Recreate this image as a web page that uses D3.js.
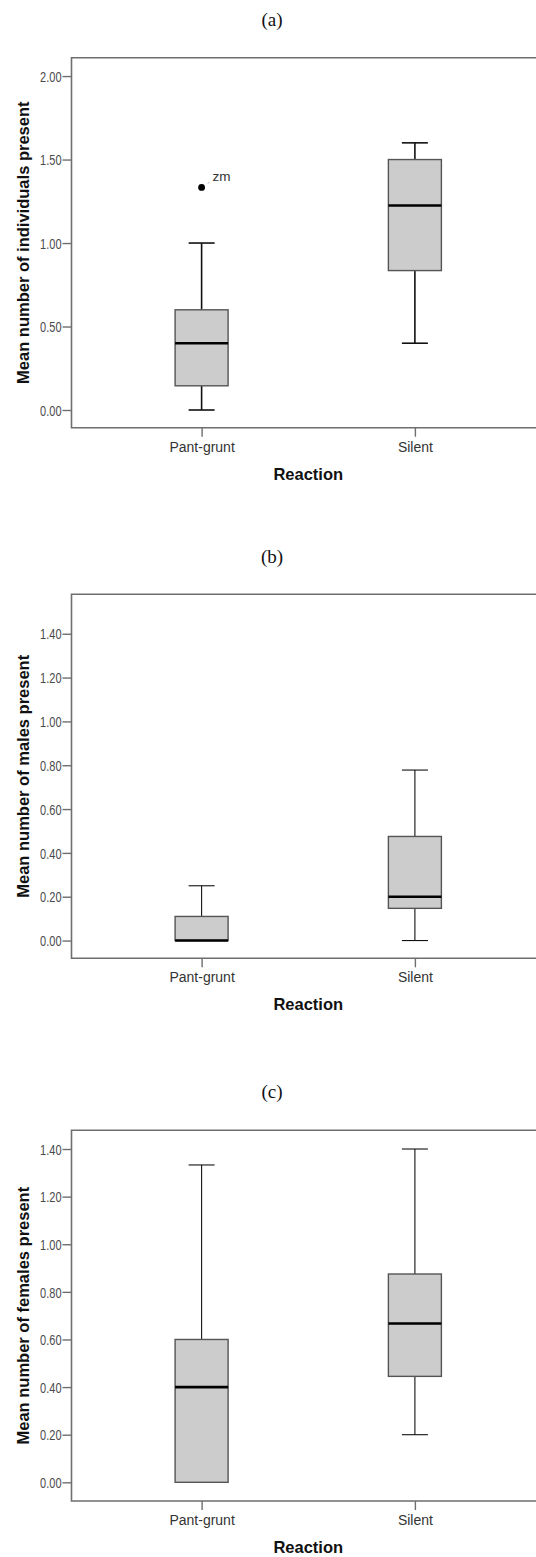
<!DOCTYPE html>
<html>
<head>
<meta charset="utf-8">
<script src="https://cdn.jsdelivr.net/npm/d3@7"></script>
<style>
  html, body { margin: 0; padding: 0; background: #fff; }
  svg { display: block; }
</style>
</head>
<body>
<svg id="chart" width="536" height="1557"></svg>
<script>
// Reaction groups shared by all three panels
const categories = ["Pant-grunt", "Silent"];

// Box summaries per group: [lower whisker, Q1, median, Q3, upper whisker]
const individualsStats = [
  [0.00, 0.145, 0.40, 0.60, 1.00],
  [0.40, 0.835, 1.225, 1.50, 1.60]
];
const individualsOutliers = [{ group: "Pant-grunt", value: 1.333, label: "zm" }];
const individualsTicks = [0, 0.5, 1.0, 1.5, 2.0];

const malesStats = [
  [0.00, 0.00, 0.00, 0.11, 0.25],
  [0.00, 0.147, 0.20, 0.475, 0.778]
];
const malesOutliers = [];
const malesTicks = [0, 0.2, 0.4, 0.6, 0.8, 1.0, 1.2, 1.4];

const femalesStats = [
  [0.00, 0.00, 0.40, 0.60, 1.333],
  [0.20, 0.445, 0.667, 0.875, 1.40]
];
const femalesOutliers = [];
const femalesTicks = [0, 0.2, 0.4, 0.6, 0.8, 1.0, 1.2, 1.4];

const panelTitles = ["(a)", "(b)", "(c)"];
const yTitles = [
  "Mean number of individuals present",
  "Mean number of males present",
  "Mean number of females present"
];
const xTitle = "Reaction";

const svg = d3.select("#chart");

// shared horizontal layout
const left = 71.5, right = 545;
const x = d3.scalePoint().domain(categories).range([left, right]).padding(0.61);
const boxHalf = 26.5, capHalf = 13;

const panels = [
  { stats: individualsStats, outliers: individualsOutliers, ticks: individualsTicks,
    domain: [-0.106, 2.11], top: 57.7, bottom: 427.7, titleY: 26, whisker: 1.6 },
  { stats: malesStats, outliers: malesOutliers, ticks: malesTicks,
    domain: [-0.081, 1.58], top: 594.3, bottom: 958.3, titleY: 563, whisker: 1.1 },
  { stats: femalesStats, outliers: femalesOutliers, ticks: femalesTicks,
    domain: [-0.0785, 1.4786], top: 1130.3, bottom: 1501, titleY: 1098, whisker: 1.1 }
];

panels.forEach((p, i) => {
  const g = svg.append("g");
  const y = d3.scaleLinear().domain(p.domain).range([p.bottom, p.top]);

  // panel letter
  g.append("text")
    .attr("x", 272).attr("y", p.titleY)
    .attr("text-anchor", "middle")
    .attr("font-family", "Liberation Serif, Times New Roman, serif")
    .attr("font-size", 19)
    .attr("fill", "#111")
    .text(panelTitles[i]);

  // plot frame (right side runs past the page edge)
  g.append("path")
    .attr("d", `M${right},${p.top}H${left}V${p.bottom}H${right}`)
    .attr("fill", "none").attr("stroke", "#6e6e6e").attr("stroke-width", 1.6);

  // y axis
  const yAxis = g.append("g")
    .attr("transform", `translate(${left},0)`)
    .call(d3.axisLeft(y).tickValues(p.ticks).tickFormat(d3.format(".2f"))
      .tickSize(9).tickPadding(1));
  yAxis.select(".domain").remove();
  yAxis.selectAll(".tick line").attr("stroke", "#6e6e6e").attr("stroke-width", 1.4);
  yAxis.selectAll(".tick text")
    .attr("font-family", "Liberation Sans, Arial, sans-serif")
    .attr("font-size", 14.5)
    .attr("fill", "#4a4a4a")
    .attr("dy", "0.36em")
    .each(function () {
      const t = d3.select(this);
      const xx = +t.attr("x");
      t.attr("x", null).attr("transform", `translate(${xx},0) scale(0.76,1)`);
    });

  // x axis
  const xAxis = g.append("g")
    .attr("transform", `translate(0,${p.bottom})`)
    .call(d3.axisBottom(x).tickSize(9).tickPadding(5));
  xAxis.select(".domain").remove();
  xAxis.selectAll(".tick line").attr("stroke", "#6e6e6e").attr("stroke-width", 1.4);
  xAxis.selectAll(".tick text")
    .attr("font-family", "Liberation Sans, Arial, sans-serif")
    .attr("font-size", 14)
    .attr("fill", "#333");

  // axis titles
  g.append("text")
    .attr("x", (left + right) / 2).attr("y", p.bottom + 52)
    .attr("text-anchor", "middle")
    .attr("font-family", "Liberation Sans, Arial, sans-serif")
    .attr("font-weight", "bold").attr("font-size", 16.5)
    .attr("fill", "#111")
    .text(xTitle);

  g.append("text")
    .attr("transform", `translate(29,${(p.top + p.bottom) / 2}) rotate(-90)`)
    .attr("text-anchor", "middle")
    .attr("font-family", "Liberation Sans, Arial, sans-serif")
    .attr("font-weight", "bold").attr("font-size", 16.5)
    .attr("fill", "#111")
    .text(yTitles[i]);

  // boxes
  const boxes = g.selectAll(".box")
    .data(p.stats.map((s, k) => ({ cat: categories[k], s })))
    .join("g").attr("class", "box");

  // whiskers (only where they extend beyond the box)
  boxes.each(function (d) {
    const b = d3.select(this);
    const cx = x(d.cat);
    const [lo, q1, med, q3, hi] = d.s;
    if (hi > q3) {
      b.append("line").attr("x1", cx).attr("x2", cx).attr("y1", y(q3)).attr("y2", y(hi))
        .attr("stroke", "#111").attr("stroke-width", p.whisker);
      b.append("line").attr("x1", cx - capHalf).attr("x2", cx + capHalf).attr("y1", y(hi)).attr("y2", y(hi))
        .attr("stroke", "#111").attr("stroke-width", p.whisker);
    }
    if (lo < q1) {
      b.append("line").attr("x1", cx).attr("x2", cx).attr("y1", y(q1)).attr("y2", y(lo))
        .attr("stroke", "#111").attr("stroke-width", p.whisker);
      b.append("line").attr("x1", cx - capHalf).attr("x2", cx + capHalf).attr("y1", y(lo)).attr("y2", y(lo))
        .attr("stroke", "#111").attr("stroke-width", p.whisker);
    }
    b.append("rect")
      .attr("x", cx - boxHalf).attr("width", boxHalf * 2)
      .attr("y", y(q3)).attr("height", y(q1) - y(q3))
      .attr("fill", "#cccccc").attr("stroke", "#555").attr("stroke-width", 1.4);
    b.append("line")
      .attr("x1", cx - boxHalf).attr("x2", cx + boxHalf)
      .attr("y1", y(med)).attr("y2", y(med))
      .attr("stroke", "#000").attr("stroke-width", 2.6);
  });

  // outliers with case labels
  p.outliers.forEach(o => {
    const cx = x(o.group), cy = y(o.value);
    g.append("circle").attr("cx", cx).attr("cy", cy).attr("r", 3.4).attr("fill", "#000");
    g.append("line").attr("x1", cx + 6).attr("x2", cx + 8).attr("y1", cy - 4).attr("y2", cy - 5)
      .attr("stroke", "#bbb").attr("stroke-width", 1);
    g.append("text")
      .attr("x", cx + 11).attr("y", cy - 6)
      .attr("font-family", "Liberation Sans, Arial, sans-serif")
      .attr("font-size", 13.5).attr("fill", "#333")
      .text(o.label);
  });
});
</script>
</body>
</html>
